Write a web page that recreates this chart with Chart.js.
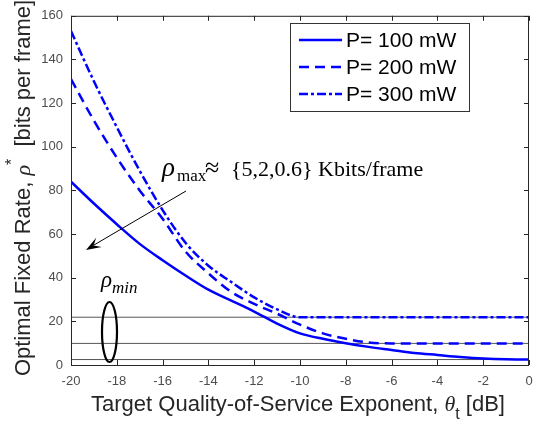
<!DOCTYPE html>
<html>
<head>
<meta charset="utf-8">
<script src="https://cdn.jsdelivr.net/npm/chart.js@4.4.1/dist/chart.umd.min.js"></script>
<style>
  html, body { margin: 0; padding: 0; background: #fff; }
</style>
</head>
<body>
<canvas id="rateChart" width="544" height="427"></canvas>
<script>
// values
const theta   = [-20, -19, -18, -17, -16, -15, -14, -13, -12, -11, -10, -9, -8, -7, -6, -5, -4, -3, -2, -1, 0];
const rate100 = [84, 74, 64.5, 55.5, 48, 41, 34.5, 29.5, 24.5, 19, 14.5, 12, 10, 8.3, 6.9, 5.5, 4.6, 3.7, 3.0, 2.6, 2.5];
const rate200 = [131, 112, 95, 80, 67, 52, 42, 33.5, 28, 23.5, 18.5, 14.5, 12, 10.3, 9.9, 9.9, 9.9, 9.9, 9.9, 9.9, 9.9];
const rate300 = [153, 130, 109, 89, 71, 56, 45.5, 38, 31, 25.5, 21.9, 21.9, 21.9, 21.9, 21.9, 21.9, 21.9, 21.9, 21.9, 21.9, 21.9];
const rhoMin  = [21.9, 9.9, 2.5];
const seriesLabels = ['P= 100 mW', 'P= 200 mW', 'P= 300 mW'];

const BLUE = '#0000ff';
const dashes = [[], [10, 6], [9, 3, 3, 3]];

function toPoints(ys) {
    return theta.map((t, i) => ({ x: t, y: ys[i] }));
}

const datasets = [rate100, rate200, rate300].map((ys, i) => ({
    label: seriesLabels[i],
    data: toPoints(ys),
    borderColor: BLUE,
    borderWidth: 2.5,
    borderDash: dashes[i],
    pointRadius: 0,
    cubicInterpolationMode: 'monotone',
    order: 1
}));

rhoMin.forEach(v => {
    datasets.push({
        label: '',
        data: [{ x: theta[0], y: v }, { x: theta[theta.length - 1], y: v }],
        borderColor: '#555',
        borderWidth: 1,
        pointRadius: 0,
        order: 10
    });
});

// draw a run of text pieces with different fonts / offsets
function richText(ctx, parts, x, y, align) {
    let total = 0;
    parts.forEach(p => { ctx.font = p.font; p.w = ctx.measureText(p.text).width; total += p.w; });
    let cx = align === 'center' ? x - total / 2 : x;
    parts.forEach(p => {
        ctx.font = p.font;
        ctx.fillText(p.text, p.x !== undefined ? p.x : cx, y + (p.dy || 0));
        cx = (p.x !== undefined ? p.x : cx) + p.w;
    });
}

const decorations = {
    id: 'decorations',
    afterDraw(chart) {
        const ctx = chart.ctx;
        const a = chart.chartArea;
        const xs = chart.scales.x, ys = chart.scales.y;
        ctx.save();

        // box + inward ticks
        ctx.strokeStyle = '#262626';
        ctx.lineWidth = 1;
        ctx.strokeRect(a.left + 0.5, a.top + 0.5, a.right - a.left - 1, a.bottom - a.top);
        ctx.beginPath();
        xs.ticks.forEach(t => {
            const px = Math.round(xs.getPixelForValue(t.value)) + 0.5;
            ctx.moveTo(px, a.bottom); ctx.lineTo(px, a.bottom - 5);
            ctx.moveTo(px, a.top); ctx.lineTo(px, a.top + 5);
        });
        ys.ticks.forEach(t => {
            const py = Math.round(ys.getPixelForValue(t.value)) + 0.5;
            ctx.moveTo(a.left, py); ctx.lineTo(a.left + 5, py);
            ctx.moveTo(a.right, py); ctx.lineTo(a.right - 5, py);
        });
        ctx.stroke();

        // axis titles
        ctx.fillStyle = '#262626';
        ctx.textBaseline = 'alphabetic';
        richText(ctx, [
            { text: 'Target Quality-of-Service Exponent, ', font: '22px "Liberation Sans", Arial' },
            { text: 'θ', font: 'italic 22px "Liberation Serif", serif' },
            { text: 't', font: '16px "Liberation Sans", Arial', dy: 8 },
            { text: ' [dB]', font: '22px "Liberation Sans", Arial' }
        ], 298, 411, 'center');

        ctx.save();
        ctx.translate(30, 188);
        ctx.rotate(-Math.PI / 2);
        richText(ctx, [
            { text: 'Optimal Fixed Rate, ', font: '22px "Liberation Sans", Arial' },
            { text: 'ρ', font: 'italic 22px "Liberation Serif", serif' },
            { text: '*', font: '16px "Liberation Sans", Arial', dy: -13 },
            { text: '  [bits per frame]', font: '22px "Liberation Sans", Arial' }
        ], 0, 0, 'center');
        ctx.restore();

        // legend
        const lx = 290, ly = 23, lw = 179, lh = 88;
        ctx.fillStyle = '#fff';
        ctx.fillRect(lx, ly, lw, lh);
        ctx.strokeStyle = '#333';
        ctx.strokeRect(lx + 0.5, ly + 0.5, lw, lh);
        chart.data.datasets.slice(0, 3).forEach((ds, i) => {
            const ry = 40 + i * 27;
            ctx.strokeStyle = ds.borderColor;
            ctx.lineWidth = 2.5;
            ctx.setLineDash(ds.borderDash);
            ctx.beginPath();
            ctx.moveTo(299, ry); ctx.lineTo(342, ry);
            ctx.stroke();
            ctx.setLineDash([]);
            ctx.fillStyle = '#000';
            ctx.font = '21px "Liberation Sans", Arial';
            ctx.textBaseline = 'middle';
            ctx.fillText(ds.label, 346, ry + 1);
        });

        // rho_max annotation
        ctx.fillStyle = '#000';
        ctx.textBaseline = 'alphabetic';
        richText(ctx, [
            { text: 'ρ', font: 'italic 27px "Liberation Serif", serif', x: 162 },
            { text: 'max', font: '17px "Liberation Serif", serif', dy: 5, x: 177 },
            { text: '≈', font: '26px "Liberation Serif", serif', x: 205 },
            { text: '{5,2,0.6} Kbits/frame', font: '22px "Liberation Serif", serif', x: 231 }
        ], 0, 176, 'left');

        // arrow
        ctx.strokeStyle = '#000';
        ctx.lineWidth = 1;
        const x0 = 186, y0 = 191, x1 = 86, y1 = 250;
        ctx.beginPath(); ctx.moveTo(x0, y0); ctx.lineTo(x1 + 8, y1 - 5); ctx.stroke();
        const ang = Math.atan2(y1 - y0, x1 - x0);
        const hl = 16, hw = 0.35;
        ctx.beginPath();
        ctx.moveTo(x1, y1);
        ctx.lineTo(x1 - hl * Math.cos(ang - hw), y1 - hl * Math.sin(ang - hw));
        ctx.lineTo(x1 - 0.55 * hl * Math.cos(ang), y1 - 0.55 * hl * Math.sin(ang));
        ctx.lineTo(x1 - hl * Math.cos(ang + hw), y1 - hl * Math.sin(ang + hw));
        ctx.closePath();
        ctx.fill();

        // rho_min annotation + ellipse
        richText(ctx, [
            { text: 'ρ', font: 'italic 23px "Liberation Serif", serif' },
            { text: 'min', font: 'italic 17px "Liberation Serif", serif', dy: 6 }
        ], 101, 287, 'left');
        ctx.lineWidth = 2.2;
        ctx.beginPath();
        ctx.ellipse(109.5, 332, 7.5, 30, 0, 0, Math.PI * 2);
        ctx.stroke();

        ctx.restore();
    }
};

const ctx = document.getElementById('rateChart').getContext('2d');
const rateChart = new Chart(ctx, {
    type: 'line',
    data: { datasets: datasets },
    options: {
        responsive: false,
        animation: false,
        devicePixelRatio: 1,
        layout: { padding: { top: 6, right: 15, left: 0, bottom: 0 } },
        plugins: { legend: { display: false }, tooltip: { enabled: false } },
        scales: {
            x: {
                type: 'linear',
                min: -20, max: 0,
                grid: { display: false, drawTicks: false },
                border: { display: false },
                ticks: { stepSize: 2, padding: 9, color: '#4d4d4d', font: { family: '"Liberation Sans", Arial', size: 13 } },
                afterFit: s => { s.height = 62; }
            },
            y: {
                min: 0, max: 160,
                grid: { display: false, drawTicks: false },
                border: { display: false },
                ticks: { stepSize: 20, padding: 8, color: '#4d4d4d', font: { family: '"Liberation Sans", Arial', size: 13 } },
                afterFit: s => { s.width = 71; }
            }
        }
    },
    plugins: [decorations]
});
</script>
</body>
</html>
